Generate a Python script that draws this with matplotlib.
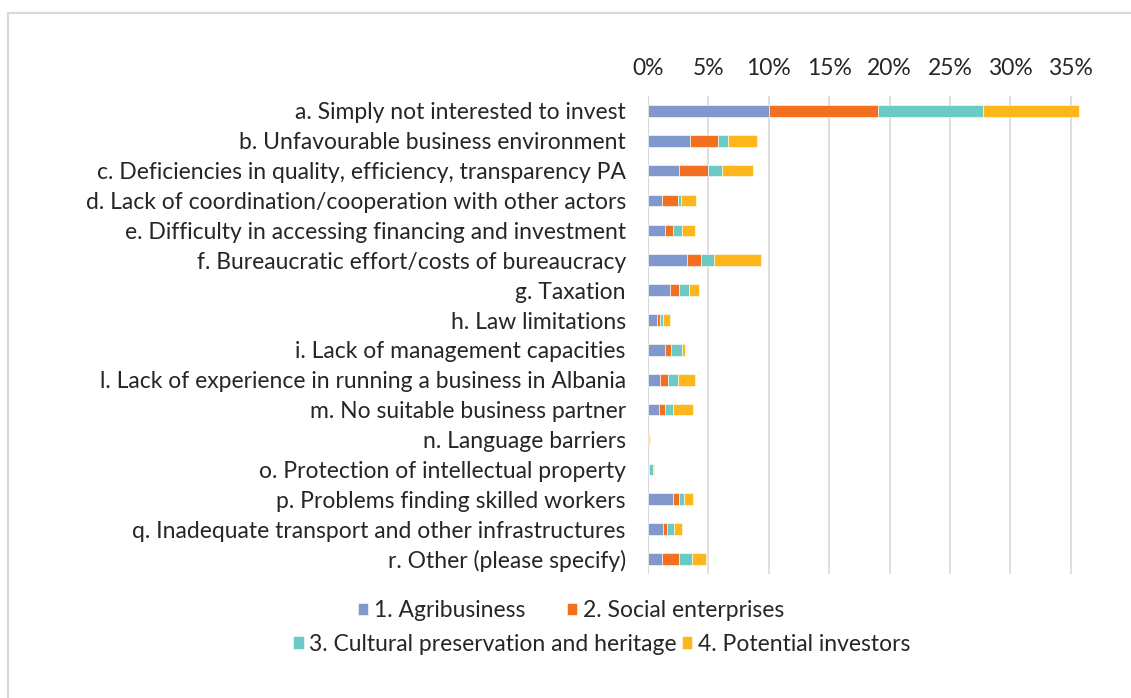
import numpy as np
import matplotlib.pyplot as plt
from matplotlib.patches import Rectangle

## reasons for not investing, stacked by group

categories = [
    "a. Simply not interested to invest",
    "b. Unfavourable business environment",
    "c. Deficiencies in quality, efficiency, transparency PA",
    "d. Lack of coordination/cooperation with other actors",
    "e. Difficulty in accessing financing and investment",
    "f. Bureaucratic effort/costs of bureaucracy",
    "g. Taxation",
    "h. Law limitations",
    "i. Lack of management capacities",
    "l. Lack of experience in running a business in Albania",
    "m. No suitable business partner",
    "n. Language barriers",
    "o. Protection of intellectual property",
    "p. Problems finding skilled workers",
    "q. Inadequate transport and other infrastructures",
    "r. Other (please specify)",
]

# shares in %
agri     = [10.0, 3.5, 2.55, 1.15, 1.4, 3.25, 1.8, 0.75, 1.4, 1.0, 0.9, 0.0, 0.05, 2.05, 1.25, 1.15]
social   = [9.0, 2.25, 2.4, 1.3, 0.65, 1.15, 0.75, 0.22, 0.5, 0.65, 0.5, 0.05, 0.05, 0.5, 0.3, 1.45]
cultural = [8.75, 0.9, 1.15, 0.3, 0.8, 1.05, 0.8, 0.25, 0.9, 0.8, 0.7, 0.0, 0.3, 0.4, 0.6, 1.05]
investor = [7.95, 2.35, 2.6, 1.25, 1.05, 3.9, 0.9, 0.58, 0.27, 1.45, 1.65, 0.1, 0.1, 0.8, 0.65, 1.15]

series_names = ["1. Agribusiness", "2. Social enterprises",
                "3. Cultural preservation and heritage", "4. Potential investors"]
colors = ["#7F99CC", "#F37021", "#6CCAC4", "#FDB71A"]

plt.rcParams['font.family'] = ['Lato', 'DejaVu Sans']
fs = 16.5

fig = plt.figure(figsize=(11.31, 6.98), dpi=100)
ax = fig.add_axes([0.573, 0.1777, 0.3845, 0.6848])

# chart border like the excel chart area
fig.patches.append(Rectangle((8/1131, -0.1), 1.2, 1 - 13/698 + 0.1, transform=fig.transFigure,
                             fill=False, edgecolor="#D9D9D9", linewidth=1.5))

y = np.arange(len(categories))
data = [np.array(agri), np.array(social), np.array(cultural), np.array(investor)]
left = np.zeros(len(categories))
bars = []
for vals, c, name in zip(data, colors, series_names):
    b = ax.barh(y, vals / 100, left=left / 100, height=0.39, color=c, label=name,
                edgecolor="white", linewidth=0.4, zorder=3)
    bars.append(b)
    left = left + vals

ax.set_ylim(len(categories) - 0.5, -0.5)
ax.set_xlim(0, 0.36)
ax.set_xticks(np.arange(0, 0.351, 0.05))
ax.set_xticklabels(["%d%%" % round(t * 100) for t in np.arange(0, 0.351, 0.05)])
ax.xaxis.tick_top()
ax.set_yticks(y)
ax.set_yticklabels(categories)
ax.tick_params(axis='both', length=0, labelsize=fs, colors="#262626", pad=12)
ax.tick_params(axis='y', pad=16)
ax.grid(axis='x', color="#D9D9D9", linewidth=1.2, zorder=0)
for s in ax.spines.values():
    s.set_visible(False)
ax.axvline(0, color="#D9D9D9", linewidth=1.5, zorder=1)

# legend in two rows like the original
leg1 = fig.legend(handles=bars[:2], loc='center', bbox_to_anchor=(0.505, 0.125), ncol=2,
                  frameon=False, fontsize=fs, handlelength=0.45, handleheight=0.45,
                  handletextpad=0.25, columnspacing=1.8, labelcolor="#262626")
leg2 = fig.legend(handles=bars[2:], loc='center', bbox_to_anchor=(0.532, 0.077), ncol=2,
                  frameon=False, fontsize=fs, handlelength=0.45, handleheight=0.45,
                  handletextpad=0.25, columnspacing=0.2, labelcolor="#262626")

fig.savefig("out.png", dpi=100)
